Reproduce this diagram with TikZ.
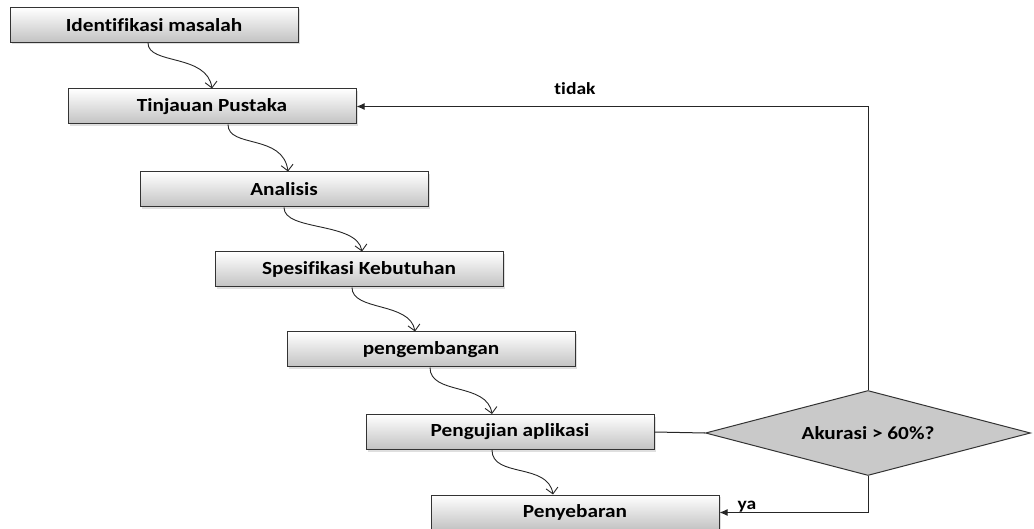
\documentclass[tikz,border=0pt]{standalone}
\usepackage{fontspec}
\setmainfont{Carlito}[FakeStretch=1.15, Ligatures=NoCommon]
\usetikzlibrary{shapes.geometric,arrows.meta,shadows}
\begin{document}
\begin{tikzpicture}[x=1pt,y=-1pt,
  box/.style={draw=black!80, line width=1pt, top color=white, bottom color=black!24,
    minimum width=288pt, minimum height=35pt, inner sep=0pt,
    font=\fontsize{18.5}{20}\selectfont\bfseries,
    drop shadow={opacity=0.25, shadow xshift=2pt, shadow yshift=-2pt}},
  dec/.style={draw=black!80, line width=1pt, fill=black!21, diamond, aspect=3.82,
    minimum width=325pt, minimum height=85pt, inner sep=0pt,
    font=\fontsize{18.5}{20}\selectfont\bfseries},
  flow/.style={line width=0.9pt, black!85, -{Straight Barb[length=6pt,width=12pt,line width=0.9pt]}},
  back/.style={line width=1pt, black!85, -{Latex[length=8pt,width=7pt]}},
  lbl/.style={font=\fontsize{17}{18}\selectfont\bfseries, inner sep=0pt}
]
\useasboundingbox (0,0) rectangle (1034,529);
\node[box] (b1) at (154,25) {Identifikasi masalah};
\node[box] (b2) at (212,106.5) {Tinjauan Pustaka};
\node[box] (b3) at (284,189.5) {Analisis};
\node[box] (b4) at (359,269.5) {Spesifikasi Kebutuhan};
\node[box] (b5) at (431,349.5) {pengembangan};
\node[box] (b6) at (510,432) {Pengujian aplikasi};
\node[box] (b7) at (575,512.5) {Penyebaran};
\node[dec] (d) at (868,433) {Akurasi > 60\%?};

\draw[flow] ([xshift=-6pt]b1.south) .. controls +(0,22) and +(-5,-35) .. (b2.north);
\draw[flow] ([xshift=16pt]b2.south) .. controls +(0,24) and +(-5,-38) .. ([xshift=4pt]b3.north);
\draw[flow] (b3.south) .. controls +(0,24) and +(-5,-30) .. ([xshift=3pt]b4.north);
\draw[flow] ([xshift=-7pt]b4.south) .. controls +(0,24) and +(-5,-30) .. ([xshift=-16pt]b5.north);
\draw[flow] ([xshift=-1pt]b5.south) .. controls +(0,28) and +(-5,-32) .. ([xshift=-18pt]b6.north);
\draw[flow] ([xshift=-18pt]b6.south) .. controls +(0,28) and +(-5,-32) .. ([xshift=-22pt]b7.north);

\draw[line width=1pt, black!85] (b6.east) -- (d.west);
\coordinate (tc) at (d.north |- b2.east);
\draw[back] (d.north) -- (tc) -- (b2.east);
\coordinate (yc) at (d.south |- b7.east);
\draw[back] (d.south) -- (yc) -- (b7.east);
\node[lbl] (t) at (575,89) {tidak};
\node[lbl] (y) at (747,507) {ya};
\end{tikzpicture}
\end{document}
